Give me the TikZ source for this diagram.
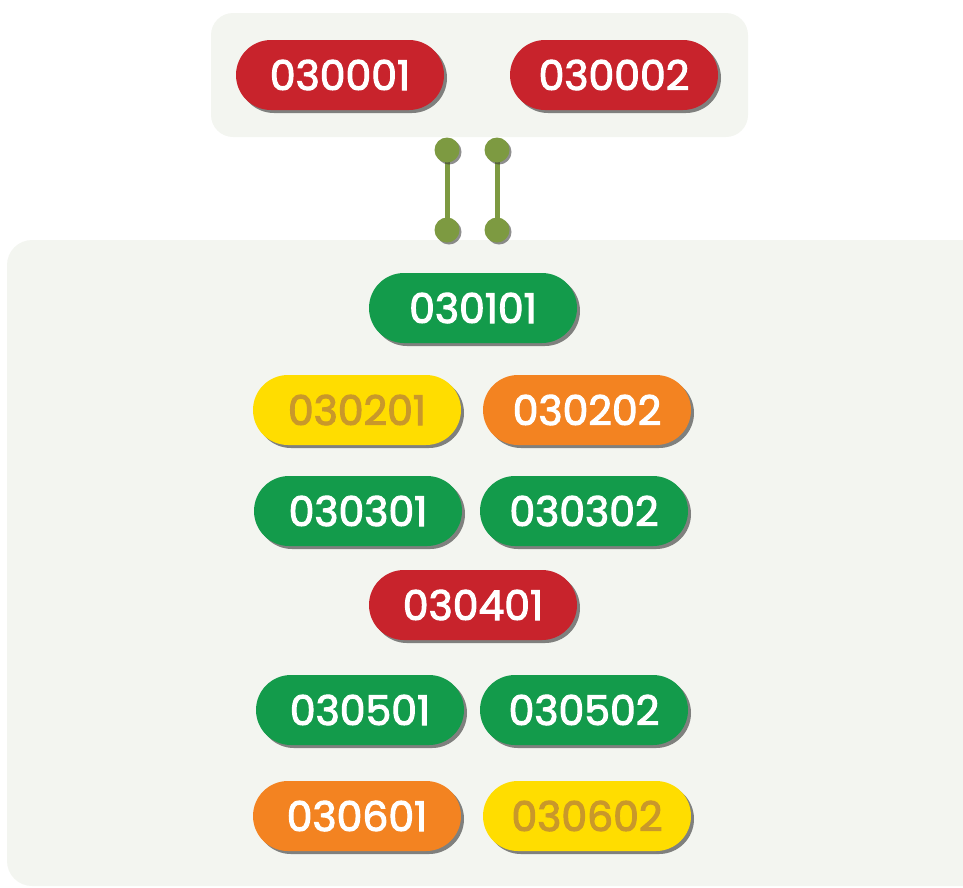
\documentclass[tikz,border=0pt]{standalone}
\usepackage{fontspec}
\setmainfont{Poppins}
\newfontfamily\pillfont[FakeBold=2.6]{Poppins}
\usetikzlibrary{shadows}
\definecolor{panel}{HTML}{F3F5F0}
\definecolor{cred}{HTML}{C8232C}
\definecolor{cgreen}{HTML}{139B4B}
\definecolor{corange}{HTML}{F38321}
\definecolor{cyellow}{HTML}{FFDD00}
\definecolor{ytext}{HTML}{C9982A}
\definecolor{olive}{HTML}{7D9A41}
\tikzset{
  pill/.style={rounded corners=35pt, minimum width=208pt, minimum height=70pt,
    inner sep=0pt, text=white, font=\pillfont\fontsize{41}{41}\selectfont,
    drop shadow={shadow xshift=3pt, shadow yshift=-3pt, opacity=0.6, fill=black!80}},
  redpill/.style={pill, fill=cred},
  greenpill/.style={pill, fill=cgreen},
  orangepill/.style={pill, fill=corange},
  yellowpill/.style={pill, fill=cyellow, text=ytext},
  dot/.style={circle, fill=olive, minimum size=25pt, inner sep=0pt,
    drop shadow={shadow xshift=2pt, shadow yshift=-2pt, opacity=0.55, fill=black!80}},
  link/.style={draw=olive, line width=5pt}
}
\begin{document}
\begin{tikzpicture}[x=1pt,y=-1pt]
\useasboundingbox (0,0) rectangle (963,887);
\begin{scope}
\clip (0,0) rectangle (963,887);
\fill[panel, rounded corners=22pt] (211,13) rectangle (748,137);
\fill[panel, rounded corners=25pt] (7,240) rectangle (1000,886);
\end{scope}
\node[redpill] (n030001) at (340,75) {030001};
\node[redpill] (n030002) at (614,75) {030002};

\node[greenpill] (n030101) at (473,308) {030101};
\node[yellowpill] (n030201) at (357,410) {030201};
\node[orangepill] (n030202) at (587,410) {030202};
\node[greenpill] (n030301) at (358,511) {030301};
\node[greenpill] (n030302) at (584,511) {030302};
\node[redpill] (n030401) at (473,605) {030401};
\node[greenpill] (n030501) at (360,710) {030501};
\node[greenpill] (n030502) at (584,710) {030502};
\node[orangepill] (n030601) at (357,816) {030601};
\node[yellowpill] (n030602) at (587,816) {030602};

\coordinate (a1) at (447,150);
\coordinate (a2) at (447,230);
\coordinate (b1) at (497,150);
\coordinate (b2) at (497,230);
\draw[link, drop shadow={shadow xshift=2pt, shadow yshift=-2pt, opacity=0.45, fill=black!80}] (a1) -- (a2);
\draw[link, drop shadow={shadow xshift=2pt, shadow yshift=-2pt, opacity=0.45, fill=black!80}] (b1) -- (b2);
\node[dot] (d1) at (a1) {};
\node[dot] (d2) at (a2) {};
\node[dot] (d3) at (b1) {};
\node[dot] (d4) at (b2) {};
\end{tikzpicture}
\end{document}
